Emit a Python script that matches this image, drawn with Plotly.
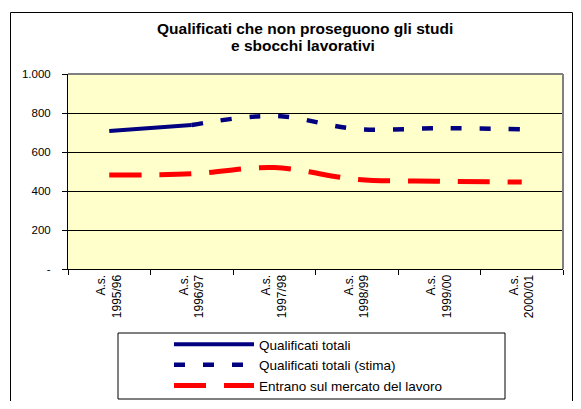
import plotly.graph_objects as go

categories = ["A.s.<br>1995/96", "A.s.<br>1996/97", "A.s.<br>1997/98",
              "A.s.<br>1998/99", "A.s.<br>1999/00", "A.s.<br>2000/01"]
qualificati_totali = [708, 738, None, None, None, None]
qualificati_stima = [None, 738, 785, 718, 722, 717]
entrano_lavoro = [482, 488, 520, 460, 450, 446]
y_tickvals = [0, 200, 400, 600, 800, 1000]
y_ticktext = ["-", "200", "400", "600", "800", "1.000"]
title_lines = ["Qualificati che non proseguono gli studi", "e sbocchi lavorativi"]

FONT = "Liberation Sans, Arial, sans-serif"
OFF = 8  # default page body margin on each side
W, H = 581 - 2 * OFF, 409 - 2 * OFF
# plot area in screen pixels
L, R, T, B = 68, 563, 74, 269

def px(x):
    return (x - L) / (R - L)

def py(y):
    return (B - y) / (B - T)

def cx(x):
    return (x - OFF) / W

def cy(y):
    return 1 - (y - OFF) / H

fig = go.Figure()
fig.add_trace(go.Scatter(x=categories, y=qualificati_totali, mode="lines",
                         name="Qualificati totali", line_shape="spline",
                         line=dict(color="#000080", width=4)))
fig.add_trace(go.Scatter(x=categories, y=qualificati_stima, mode="lines",
                         name="Qualificati totali (stima)", line_shape="spline",
                         line=dict(color="#000080", width=4.5, dash="11px,18px")))
fig.add_trace(go.Scatter(x=categories, y=entrano_lavoro, mode="lines",
                         name="Entrano sul mercato del lavoro", line_shape="spline",
                         line=dict(color="#FF0000", width=5, dash="32px,18px")))

shapes = [
    dict(type="rect", xref="paper", yref="paper", x0=px(10.5), x1=px(572.5),
         y0=py(420), y1=py(12.5), line=dict(color="black", width=1), layer="below"),
    dict(type="line", xref="paper", yref="paper", x0=0, x1=1, y0=1, y1=1,
         line=dict(color="#808080", width=2)),
    dict(type="line", xref="paper", yref="paper", x0=1, x1=1, y0=0, y1=1,
         line=dict(color="#808080", width=2)),
    dict(type="rect", xref="paper", yref="paper", x0=px(118), x1=px(505),
         y0=py(399), y1=py(333), line=dict(color="black", width=1), layer="below"),
]

annotations = [
    dict(text="<b>%s</b>" % title_lines[0], xref="paper", yref="paper",
         x=px(305), y=py(28.5), xanchor="center", yanchor="middle", showarrow=False,
         font=dict(family=FONT, size=15.5, color="black")),
    dict(text="<b>%s</b>" % title_lines[1], xref="paper", yref="paper",
         x=px(303), y=py(45.5), xanchor="center", yanchor="middle", showarrow=False,
         font=dict(family=FONT, size=15.5, color="black")),
]

fig.update_layout(
    width=W, height=H,
    margin=dict(l=L - OFF, r=W - (R - OFF), t=T - OFF, b=H - (B - OFF), autoexpand=False),
    paper_bgcolor="white", plot_bgcolor="#FFFFCC",
    separators=",.",
    font=dict(family=FONT, size=11, color="black"),
    showlegend=True,
    legend=dict(x=cx(169), xref="container", xanchor="left",
                y=cy(329), yref="container", yanchor="top",
                bgcolor="rgba(0,0,0,0)", borderwidth=0,
                font=dict(family=FONT, size=13.5, color="black"),
                itemwidth=80, tracegroupgap=0),
    shapes=shapes,
    annotations=annotations,
)
fig.update_xaxes(showgrid=False, showline=True, linecolor="black", linewidth=1,
                 ticks="outside", ticklen=5, tickcolor="black", tickson="boundaries",
                 tickangle=-90, tickfont=dict(family=FONT, size=12, color="black"),
                 range=[-0.5, 5.5], zeroline=False, fixedrange=True, automargin=False)
fig.update_yaxes(range=[0, 1000], tickvals=y_tickvals, ticktext=y_ticktext,
                 showgrid=True, gridcolor="black", gridwidth=1,
                 showline=True, linecolor="black", linewidth=1,
                 ticks="outside", ticklen=5, tickcolor="black",
                 ticklabelstandoff=9,
                 tickfont=dict(family=FONT, size=11.5, color="black"),
                 zeroline=False, fixedrange=True, automargin=False)

fig.write_html("out.html")
